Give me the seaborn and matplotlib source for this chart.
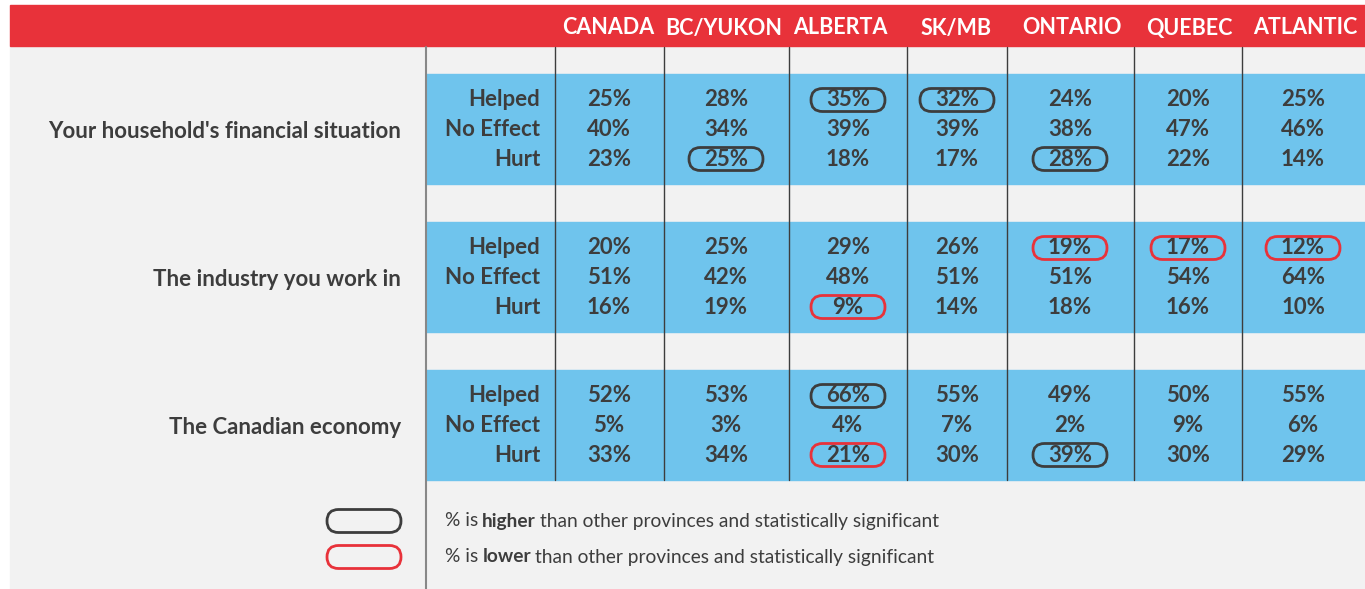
import seaborn as sns
import matplotlib.pyplot as plt
from matplotlib.patches import FancyBboxPatch, Rectangle

# Data
regions = ['CANADA', 'BC/YUKON', 'ALBERTA', 'SK/MB', 'ONTARIO', 'QUEBEC', 'ATLANTIC']
topics = ["Your household's financial situation", 'The industry you work in', 'The Canadian economy']
effects = ['Helped', 'No Effect', 'Hurt']

household_helped = [25, 28, 35, 32, 24, 20, 25]
household_noeffect = [40, 34, 39, 39, 38, 47, 46]
household_hurt = [23, 25, 18, 17, 28, 22, 14]
industry_helped = [20, 25, 29, 26, 19, 17, 12]
industry_noeffect = [51, 42, 48, 51, 51, 54, 64]
industry_hurt = [16, 19, 9, 14, 18, 16, 10]
economy_helped = [52, 53, 66, 55, 49, 50, 55]
economy_noeffect = [5, 3, 4, 7, 2, 9, 6]
economy_hurt = [33, 34, 21, 30, 39, 30, 29]

# significance flags: (effect, region) -> 'high' / 'low'
household_flags = {('Helped', 'ALBERTA'): 'high', ('Helped', 'SK/MB'): 'high',
                   ('Hurt', 'BC/YUKON'): 'high', ('Hurt', 'ONTARIO'): 'high'}
industry_flags = {('Helped', 'ONTARIO'): 'low', ('Helped', 'QUEBEC'): 'low',
                  ('Helped', 'ATLANTIC'): 'low', ('Hurt', 'ALBERTA'): 'low'}
economy_flags = {('Helped', 'ALBERTA'): 'high', ('Hurt', 'ALBERTA'): 'low',
                 ('Hurt', 'ONTARIO'): 'high'}

blocks = [
    (topics[0], [household_helped, household_noeffect, household_hurt], household_flags),
    (topics[1], [industry_helped, industry_noeffect, industry_hurt], industry_flags),
    (topics[2], [economy_helped, economy_noeffect, economy_hurt], economy_flags),
]

sns.set_theme(style='white')
plt.rcParams['font.family'] = ['Lato', 'DejaVu Sans']

RED = '#e8323a'
BLUE = '#6fc4ed'
GREY_BG = '#f2f2f2'
DARK = '#3d3d3d'

fig = plt.figure(figsize=(13.65, 5.89), dpi=100)
ax = fig.add_axes([0, 0, 1, 1])
ax.set_xlim(0, 1365)
ax.set_ylim(589, 0)
ax.axis('off')

# background panel and header
ax.add_patch(Rectangle((10, 46), 1355, 543, color=GREY_BG, zorder=0))
ax.add_patch(Rectangle((10, 5), 1355, 41, color=RED, zorder=1))

col_lines = [555, 664, 789, 907, 1007, 1134, 1242]
col_centers = [609, 726, 848, 957, 1070, 1188, 1303]
head_centers = [608, 724, 840, 956, 1072, 1189, 1305]

for name, xc in zip(regions, head_centers):
    ax.text(xc, 28, name, color='white', fontsize=15.5, fontweight='bold',
            ha='center', va='center', zorder=3)

band_tops = [74, 222, 370]
band_h = 110
row_off = [25, 54, 84]


def oval(x, y, ec):
    ax.add_patch(FancyBboxPatch((x - 37, y - 11.5), 74, 23,
                                boxstyle='round,pad=0,rounding_size=11.5',
                                fc='none', ec=ec, lw=2, zorder=4, clip_on=False))


for top in band_tops:
    ax.add_patch(Rectangle((426, top), 939, band_h, color=BLUE, zorder=1))

for x in col_lines:
    ax.plot([x, x], [47, 480], color=DARK, lw=1, zorder=2)
ax.plot([426, 426], [47, 589], color='#888888', lw=1.5, zorder=2)

for top, (topic, series, flags) in zip(band_tops, blocks):
    ax.text(401, top + 57, topic, color=DARK, fontsize=16, fontweight='bold',
            ha='right', va='center', zorder=3)
    for eff, vals, off in zip(effects, series, row_off):
        y = top + off + 1
        ax.text(540, y, eff, color=DARK, fontsize=16, fontweight='bold',
                ha='right', va='center', zorder=3)
        for reg, v, xc in zip(regions, vals, col_centers):
            ax.text(xc, y, f'{v}%', color=DARK, fontsize=16, fontweight='bold',
                    ha='center', va='center', zorder=3)
            flag = flags.get((eff, reg))
            if flag:
                oval(xc, y, DARK if flag == 'high' else RED)

# legend
inv = ax.transData.inverted()
for y, ec, word in [(521, DARK, 'higher'), (557, RED, 'lower')]:
    oval(364, y, ec)
    t = ax.text(445, y, '% is', color=DARK, fontsize=13.8, ha='left', va='center')
    fig.canvas.draw()
    x1 = inv.transform((t.get_window_extent().x1, 0))[0] + 4
    t2 = ax.text(x1, y, word, color=DARK, fontsize=13.8, fontweight='bold',
                 ha='left', va='center')
    fig.canvas.draw()
    x2 = inv.transform((t2.get_window_extent().x1, 0))[0] + 4
    ax.text(x2, y, 'than other provinces and statistically significant',
            color=DARK, fontsize=13.8, ha='left', va='center')

fig.savefig('out.png', dpi=100, facecolor='white')
